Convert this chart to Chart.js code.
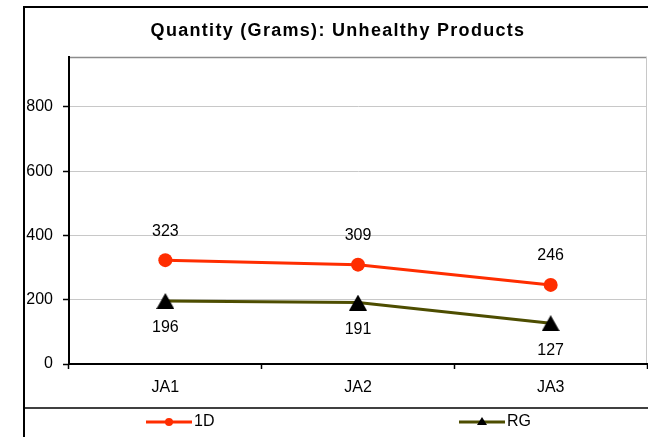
<!DOCTYPE html>
<html>
<head>
<meta charset="utf-8">
<title>Quantity (Grams): Unhealthy Products</title>
<script src="https://cdn.jsdelivr.net/npm/chart.js@4.4.1/dist/chart.umd.min.js"></script>
<style>
    html, body { margin: 0; padding: 0; background: #fff; }
    #chart { display: block; }
</style>
</head>
<body>
<canvas id="chart" width="648" height="437"></canvas>
<script>
// Chart data
var chartTitle = 'Quantity (Grams): Unhealthy Products';
var categories = ['JA1', 'JA2', 'JA3'];
var seriesNames = ['1D', 'RG'];
var values1D = [323, 309, 246];
var valuesRG = [196, 191, 127];
var yTickValues = [0, 200, 400, 600, 800];
var yAxisMax = 955;

var FONT = '"Liberation Sans", Arial, sans-serif';
var RED = '#ff2d00';
var OLIVE = '#4d4d00';

// Excel style triangle marker, centred on its bounding box
function makeTriangle(w, h, color) {
    var c = document.createElement('canvas');
    c.width = w;
    c.height = h;
    var ctx = c.getContext('2d');
    ctx.fillStyle = color;
    ctx.beginPath();
    ctx.moveTo(w / 2, 0);
    ctx.lineTo(w, h);
    ctx.lineTo(0, h);
    ctx.closePath();
    ctx.fill();
    return c;
}

// Outer frame, plot border and legend separator
var framePlugin = {
    id: 'excelFrame',
    beforeDraw: function(chart) {
        var ctx = chart.ctx;
        var area = chart.chartArea;
        var sepY = chart.scales.x.bottom;
        ctx.save();
        ctx.fillStyle = '#fff';
        ctx.fillRect(0, 0, chart.width, chart.height);

        ctx.strokeStyle = '#000';
        ctx.lineWidth = 2;
        ctx.beginPath();
        ctx.moveTo(24, chart.height);
        ctx.lineTo(24, 7);
        ctx.lineTo(chart.width, 7);
        ctx.stroke();

        ctx.lineWidth = 1.5;
        ctx.beginPath();
        ctx.moveTo(24, sepY);
        ctx.lineTo(chart.width, sepY);
        ctx.stroke();

        ctx.strokeStyle = '#8c8c8c';
        ctx.beginPath();
        ctx.moveTo(area.left, area.top + 0.5);
        ctx.lineTo(area.right, area.top + 0.5);
        ctx.stroke();

        ctx.strokeStyle = '#c8c8c8';
        ctx.lineWidth = 1;
        ctx.beginPath();
        ctx.moveTo(area.right - 0.5, area.top);
        ctx.lineTo(area.right - 0.5, area.bottom);
        ctx.stroke();
        ctx.restore();
    }
};

// Value labels above / below each point
var valueLabels = {
    id: 'valueLabels',
    afterDatasetsDraw: function(chart) {
        var ctx = chart.ctx;
        ctx.save();
        ctx.font = '16px ' + FONT;
        ctx.fillStyle = '#000';
        ctx.textAlign = 'center';
        ctx.textBaseline = 'middle';
        chart.data.datasets.forEach(function(ds, i) {
            var meta = chart.getDatasetMeta(i);
            meta.data.forEach(function(pt, j) {
                ctx.fillText(String(ds.data[j]), pt.x, pt.y + ds.labelOffset);
            });
        });
        ctx.restore();
    }
};

// Title (with the wide Excel spacing) and the line+marker legend
var titleAndLegend = {
    id: 'titleAndLegend',
    afterDraw: function(chart) {
        var ctx = chart.ctx;
        ctx.save();
        ctx.fillStyle = '#000';
        ctx.font = 'bold 18px ' + FONT;
        ctx.letterSpacing = '1.3px';
        ctx.textAlign = 'center';
        ctx.textBaseline = 'alphabetic';
        ctx.fillText(chartTitle, 338, 36);
        ctx.letterSpacing = '0px';

        var legendX = [146, 459];
        var legendY = 422;
        ctx.font = '16px ' + FONT;
        ctx.textAlign = 'left';
        ctx.textBaseline = 'middle';
        chart.data.datasets.forEach(function(ds, i) {
            var x0 = legendX[i];
            ctx.strokeStyle = ds.borderColor;
            ctx.lineWidth = 3;
            ctx.beginPath();
            ctx.moveTo(x0, legendY);
            ctx.lineTo(x0 + 46, legendY);
            ctx.stroke();

            ctx.fillStyle = ds.pointBackgroundColor;
            ctx.beginPath();
            if (ds.pointStyle === 'circle') {
                ctx.arc(x0 + 23, legendY, 4, 0, Math.PI * 2);
            } else {
                ctx.moveTo(x0 + 23, legendY - 5);
                ctx.lineTo(x0 + 28, legendY + 3);
                ctx.lineTo(x0 + 18, legendY + 3);
                ctx.closePath();
            }
            ctx.fill();

            ctx.fillStyle = '#000';
            ctx.fillText(ds.label, x0 + 48, legendY);
        });
        ctx.restore();
    }
};

var chart = new Chart(document.getElementById('chart'), {
    type: 'line',
    data: {
        labels: categories,
        datasets: [{
            label: seriesNames[0],
            data: values1D,
            borderColor: RED,
            backgroundColor: RED,
            borderWidth: 3,
            tension: 0,
            pointStyle: 'circle',
            pointRadius: 7,
            pointBackgroundColor: RED,
            pointBorderColor: RED,
            pointBorderWidth: 0,
            labelOffset: -29
        }, {
            label: seriesNames[1],
            data: valuesRG,
            borderColor: OLIVE,
            backgroundColor: OLIVE,
            borderWidth: 3,
            tension: 0,
            pointStyle: makeTriangle(18, 16, '#000'),
            pointRadius: 9,
            pointBackgroundColor: '#000',
            pointBorderWidth: 0,
            labelOffset: 27
        }]
    },
    options: {
        responsive: false,
        devicePixelRatio: 1,
        animation: false,
        layout: {
            autoPadding: false,
            padding: { left: 24, right: 1, top: 57, bottom: 29 }
        },
        plugins: {
            legend: { display: false },
            title: { display: false },
            tooltip: { enabled: false }
        },
        scales: {
            x: {
                type: 'category',
                offset: true,
                grid: {
                    offset: true,
                    drawOnChartArea: false,
                    drawTicks: true,
                    tickLength: 5,
                    tickColor: '#000',
                    tickWidth: 1.5
                },
                border: { color: '#000', width: 2 },
                ticks: { color: '#000', font: { family: FONT, size: 16 }, padding: 9 },
                afterFit: function(scale) {
                    scale.height = 44;
                    scale.paddingLeft = 0;
                    scale.paddingRight = 0;
                }
            },
            y: {
                min: 0,
                max: yAxisMax,
                bounds: 'data',
                afterBuildTicks: function(scale) {
                    scale.ticks = yTickValues.map(function(v) { return { value: v }; });
                },
                grid: {
                    color: function(c) {
                        return c.tick && c.tick.value === 0 ? 'rgba(0,0,0,0)' : '#c8c8c8';
                    },
                    lineWidth: 1,
                    tickLength: 6,
                    tickColor: '#000',
                    tickWidth: 1.5
                },
                border: { color: '#000', width: 2 },
                ticks: { color: '#000', font: { family: FONT, size: 16 }, padding: 10 },
                afterFit: function(scale) { scale.width = 45; }
            }
        }
    },
    plugins: [framePlugin, valueLabels, titleAndLegend]
});
</script>
</body>
</html>
